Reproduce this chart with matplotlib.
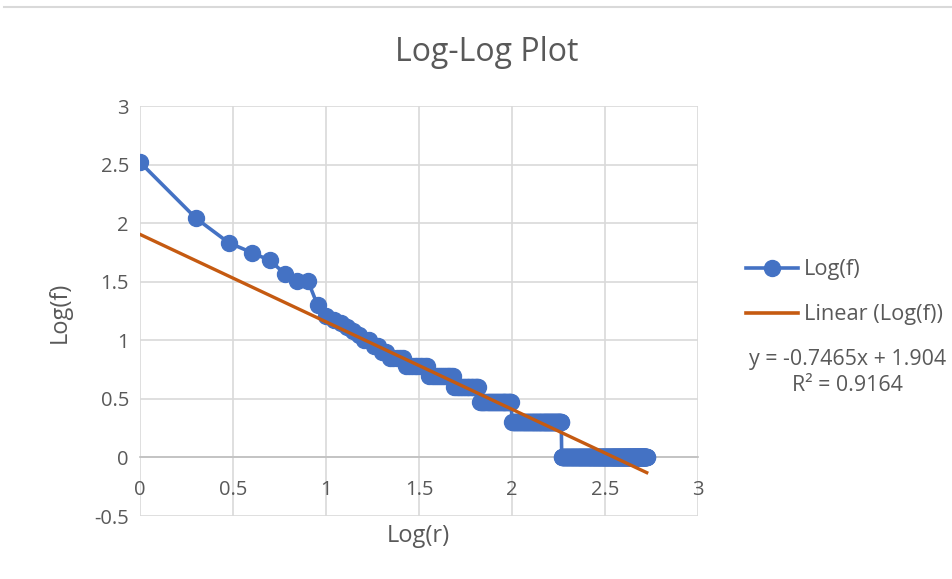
import numpy as np
import matplotlib
matplotlib.use("Agg")
import matplotlib.pyplot as plt
from matplotlib.lines import Line2D

# word frequencies in rank order (top words listed one by one)
top_freqs = [331, 110, 68, 56, 48, 37, 32, 32, 20, 16, 15, 14, 13, 12, 11,
             10, 10, 9, 9, 8, 8]
# low frequencies: (frequency, how many ranks share it)
tail_freqs = [7, 6, 5, 4, 3, 2, 1]
tail_counts = [5, 9, 13, 18, 33, 85, 346]

# trendline shown by the chart
slope = -0.7465
intercept = 1.904
r_squared = 0.9164

title = "Log-Log Plot"
x_label = "Log(r)"
y_label = "Log(f)"
x_ticks = [0, 0.5, 1, 1.5, 2, 2.5, 3]
x_ticklabels = ["0", "0.5", "1", "1.5", "2", "2.5", "3"]
y_ticks = [-0.5, 0, 0.5, 1, 1.5, 2, 2.5, 3]
y_ticklabels = ["-0.5", "0", "0.5", "1", "1.5", "2", "2.5", "3"]

BLUE = "#4472C4"
ORANGE = "#C55A11"
TEXT = "#595959"
GRID = "#d9d9d9"

plt.rcParams['font.family'] = ['Open Sans', 'DejaVu Sans']

freqs = list(top_freqs)
for f, n in zip(tail_freqs, tail_counts):
    freqs += [f] * n
ranks = np.arange(1, len(freqs) + 1)
log_r = np.log10(ranks)
log_f = np.log10(freqs)

fig = plt.figure(figsize=(9.52, 5.79), dpi=100)
ax = fig.add_axes([0.1471, 0.1088, 0.5861, 0.7081])

ax.plot(log_r, log_f, color=BLUE, lw=2.6, marker="o", ms=11.5,
        mfc=BLUE, mec=BLUE, zorder=3)
tx = np.array([0, log_r[-1]])
ax.plot(tx, slope * tx + intercept, color=ORANGE, lw=2.4, zorder=4)

ax.set_xlim(0, 3)
ax.set_ylim(-0.5, 3)
ax.set_xticks(x_ticks)
ax.set_xticklabels(x_ticklabels)
ax.set_yticks(y_ticks)
ax.set_yticklabels(y_ticklabels)
ax.grid(True, color=GRID, lw=1.2, zorder=0)
ax.set_axisbelow(True)

for s in ["top", "right", "left"]:
    ax.spines[s].set_visible(False)
ax.spines["bottom"].set_position(("data", 0))
ax.spines["bottom"].set_color("#bfbfbf")
ax.spines["bottom"].set_linewidth(1.2)
ax.tick_params(axis="x", length=0, pad=16, labelsize=14.5, labelcolor=TEXT)
ax.tick_params(axis="y", length=0, pad=8, labelsize=14.5, labelcolor=TEXT)

fig.text(0.511, 0.910, title, ha="center", va="center", fontsize=23, color=TEXT)
fig.text(0.439, 0.074, x_label, ha="center", va="center", fontsize=17, color=TEXT)
fig.text(0.063, 0.461, y_label, ha="center", va="center", rotation=90,
         fontsize=17, color=TEXT)

handles = [Line2D([], [], color=BLUE, lw=2.6, marker="o", ms=11.5),
           Line2D([], [], color=ORANGE, lw=2.6)]
leg = fig.legend(handles, ["Log(f)", "Linear (Log(f))"], loc="center left",
                 bbox_to_anchor=(0.7635, 0.495), frameon=False, fontsize=15.7,
                 handlelength=2.35, handletextpad=0.3, labelspacing=1.1)
for t in leg.get_texts():
    t.set_color(TEXT)

fig.text(0.890, 0.379, "y = -0.7465x + 1.904", ha="center", va="center",
         fontsize=15.4, color=TEXT)
fig.text(0.890, 0.334, "R² = %.4f" % r_squared, ha="center", va="center",
         fontsize=15.4, color=TEXT)

# thin frame line at the very top of the sheet
fig.add_artist(Line2D([0.004, 1.0], [0.988, 0.988], color=GRID, lw=1.5))

fig.savefig("out.png", dpi=100)
